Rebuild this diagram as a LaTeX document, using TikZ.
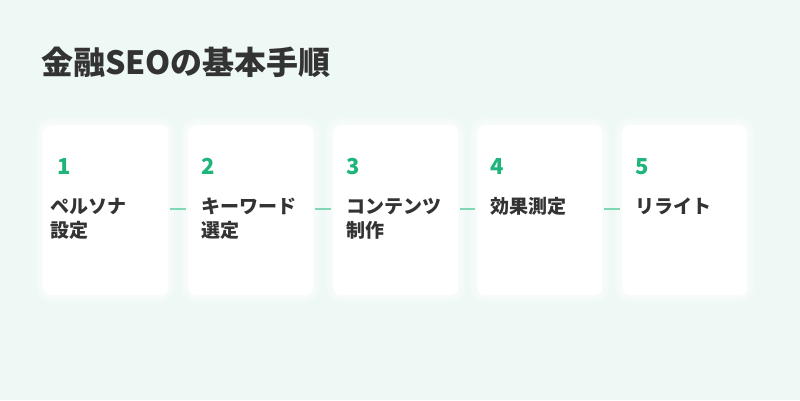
\documentclass[tikz,border=0pt]{standalone}
\usepackage{fontspec}
\setmainfont{Noto Sans CJK JP}
\definecolor{bgc}{HTML}{EEF8F4}
\definecolor{numc}{HTML}{1DB57A}
\definecolor{linec}{HTML}{80D7B3}
\definecolor{txtc}{HTML}{333333}
\tikzset{
  cardbox/.style={fill=white, rounded corners=8pt, minimum width=125pt, minimum height=170pt, anchor=north west, inner sep=0pt},
  glow/.style={fill=white, rounded corners=#1, opacity=0.2},
  numtxt/.style={anchor=base west, inner sep=0pt, text=numc, font=\fontsize{22}{24}\selectfont\bfseries},
  labtxt/.style={anchor=base west, inner sep=0pt, text=txtc, align=left, font=\fontsize{19}{24}\selectfont\bfseries},
  conn/.style={draw=linec, line width=1.8pt, shorten <=2pt, shorten >=2pt}
}
\begin{document}
\begin{tikzpicture}[x=1pt,y=-1pt]
\fill[bgc] (0,0) rectangle (800,400);
\useasboundingbox (0,0) rectangle (800,400);
\node[anchor=base west, inner sep=0pt, text=txtc, font=\fontsize{32}{36}\selectfont\bfseries] (title) at (41,74) {金融SEOの基本手順};
% cards with soft glow
\foreach \i/\x in {1/43,2/188,3/333,4/477,5/622}{
  \foreach \e in {8,6,4,2}{
    \fill[glow=8pt+\e pt] (\x-\e,125-\e) rectangle (\x+125+\e,295+\e);
  }
  \node[cardbox] (c\i) at (\x,125) {};
}
\node[numtxt] (n1) at (57,174) {1};
\node[numtxt] (n2) at (201,174) {2};
\node[numtxt] (n3) at (346,174) {3};
\node[numtxt] (n4) at (490,174) {4};
\node[numtxt] (n5) at (635,174) {5};
\node[labtxt] (l1) at (50,237) {ペルソナ\\設定};
\node[labtxt] (l2) at (201,237) {キーワード\\選定};
\node[labtxt] (l3) at (346,237) {コンテンツ\\制作};
\node[labtxt] (l4) at (490,213) {効果測定};
\node[labtxt] (l5) at (635,213) {リライト};
\foreach \a/\b in {1/2,2/3,3/4,4/5}{
  \draw[conn] ([yshift=-84pt]c\a.north east) -- ([yshift=-84pt]c\b.north west);
}
\end{tikzpicture}
\end{document}
